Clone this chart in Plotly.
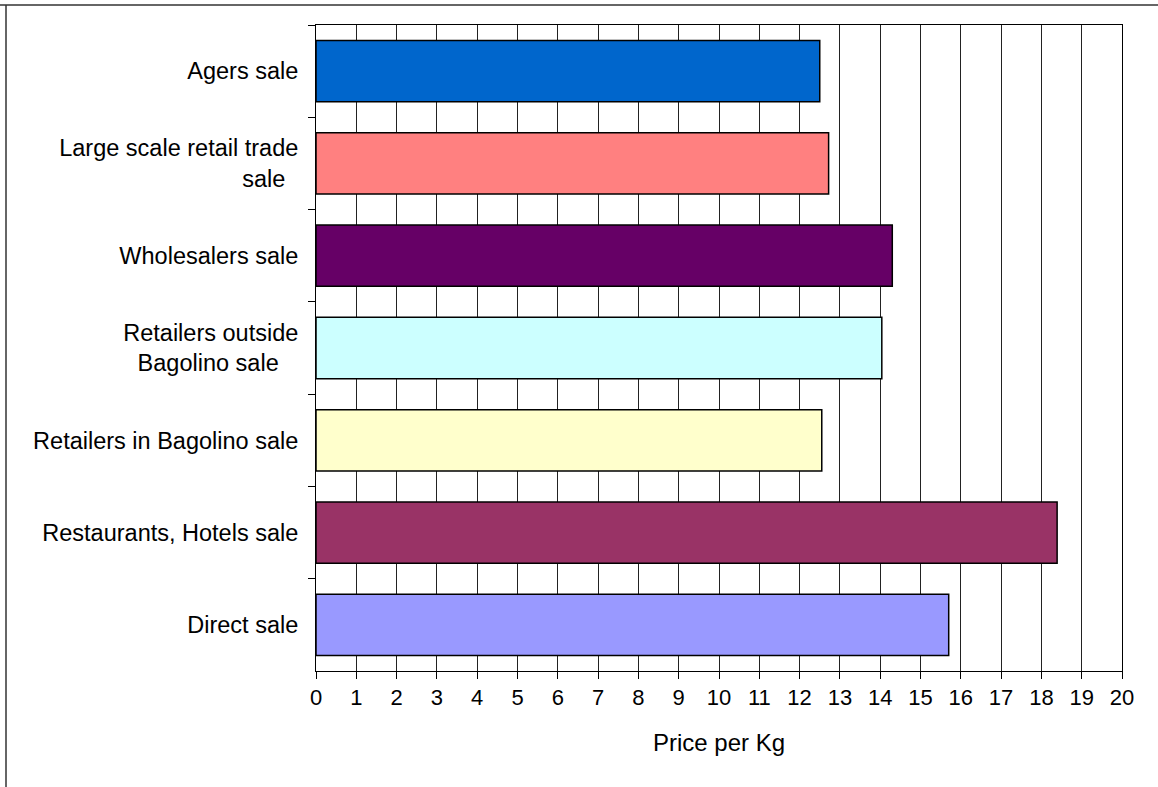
import plotly.graph_objects as go

categories = [
    "Agers sale",
    "Large scale retail trade<br>sale\u00a0\u00a0",
    "Wholesalers sale",
    "Retailers outside<br>Bagolino sale\u00a0\u00a0\u00a0",
    "Retailers in Bagolino sale",
    "Restaurants, Hotels sale",
    "Direct sale",
]
prices = [12.5, 12.72, 14.3, 14.04, 12.55, 18.39, 15.7]
colors = ["#0066CC", "#FF8080", "#660066", "#CCFFFF", "#FFFFCC", "#993366", "#9999FF"]
x_ticks = list(range(0, 21))

fig = go.Figure()
fig.add_trace(go.Bar(
    x=prices,
    y=categories,
    orientation="h",
    marker=dict(color=colors, line=dict(color="#000000", width=1.5)),
    hoverinfo="x+y",
))

fig.update_layout(
    width=1158,
    height=787,
    margin=dict(l=316, r=36, t=25, b=116),
    paper_bgcolor="white",
    plot_bgcolor="white",
    bargap=0.336,
    showlegend=False,
    font=dict(family="Liberation Sans, Arial, sans-serif", size=22, color="black"),
    xaxis=dict(
        range=[0, 20],
        tickmode="array",
        tickvals=x_ticks,
        ticktext=[str(v) for v in x_ticks],
        showgrid=True,
        gridcolor="#222222",
        gridwidth=1,
        zeroline=False,
        showline=True,
        linecolor="black",
        linewidth=1,
        mirror=True,
        ticks="outside",
        ticklen=7,
        tickcolor="black",
        tickfont=dict(size=22),
        title=dict(text="Price per Kg", font=dict(size=24), standoff=24),
    ),
    yaxis=dict(
        categoryorder="array",
        categoryarray=categories,
        autorange="reversed",
        showgrid=False,
        showline=True,
        linecolor="black",
        linewidth=1,
        mirror=True,
        ticks="outside",
        tickson="boundaries",
        ticklen=7,
        tickcolor="black",
        tickfont=dict(size=23.5),
        ticklabelstandoff=12,
    ),
)

# outer frame lines (document border)
fig.add_shape(type="line", xref="paper", yref="paper",
              x0=-316 / 806, x1=1.2, y0=1 + 20 / 646, y1=1 + 20 / 646,
              line=dict(color="#666666", width=2))
fig.add_shape(type="line", xref="paper", yref="paper",
              x0=-310 / 806, x1=-310 / 806, y0=1 + 20 / 646, y1=-0.3,
              line=dict(color="#333333", width=1.5))

fig.write_html("out.html")
